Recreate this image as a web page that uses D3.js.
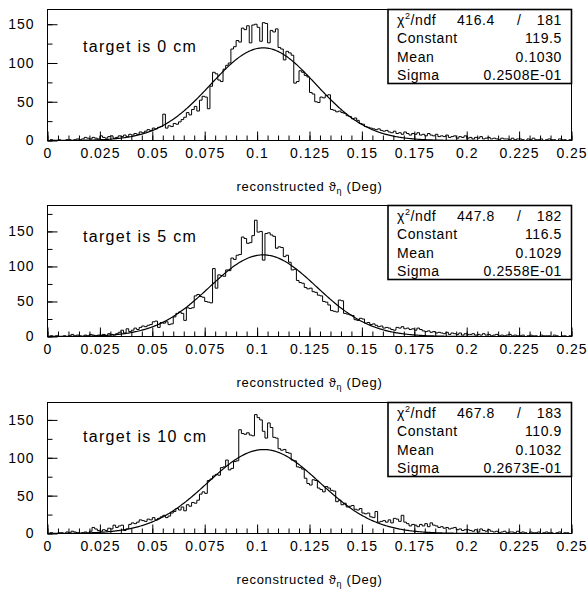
<!DOCTYPE html>
<html>
<head>
<meta charset="utf-8">
<script src="https://cdn.jsdelivr.net/npm/d3@7"></script>
<style>
  body { margin: 0; background: #fff; }
  text { font-family: "Liberation Sans", Arial, sans-serif; fill: #000; }
</style>
</head>
<body>
<div id="chart"></div>
<script>
// tick labels
var xTickLabels = ["0", "0.025", "0.05", "0.075", "0.1", "0.125", "0.15", "0.175", "0.2", "0.225", "0.25"]
var yTickLabels = ["0", "50", "100", "150"]

// panel titles and fit results
var targets = ["target is 0 cm", "target is 5 cm", "target is 10 cm"]
var chi2 = ["416.4", "447.8", "467.8"]
var ndf = ["181", "182", "183"]
var constants = ["119.5", "116.5", "110.9"]
var means = ["0.1030", "0.1029", "0.1032"]
var sigmas = ["0.2508E-01", "0.2558E-01", "0.2673E-01"]
var yMaxes = [169, 187, 173]

// histogram contents, 200 bins from 0 to 0.25 deg
var counts0 = [
  0,1,0,0,1,0,0,1,1,0, 1,2,1,2,4,3,2,4,3,2, 6,4,3,5,6,3,4,6,5,7, 5,8,7,9,8,11,10,12,14,13,
  16,15,17,18,34,16,19,18,22,21, 24,27,30,36,33,40,44,38,52,57, 56,41,70,88,86,78,76,92,97,100,
  118,121,129,127,145,143,148,126,149,150, 146,128,152,151,126,142,140,144,120,118,
  104,115,113,110,74,76,90,88,84,82, 62,60,50,49,56,55,58,59,40,39,
  37,38,36,35,32,31,28,29,26,22, 21,18,17,16,15,14,15,13,12,13, 11,10,12,9,10,8,11,9,7,9,
  8,10,7,8,6,9,7,6,8,5, 6,5,7,4,5,6,3,5,4,6, 3,4,2,4,3,5,2,3,4,2,
  3,2,1,3,2,2,1,3,1,2, 2,1,0,2,1,3,1,1,2,0, 1,2,1,1,0,2,1,1,0,1
]
var counts5 = [
  0,1,0,1,0,0,1,0,1,3, 1,2,1,0,2,1,3,2,1,2, 2,3,1,4,3,2,4,6,9,5, 11,7,9,12,10,13,15,14,16,17,
  21,22,13,20,19,21,17,18,28,33, 35,33,23,41,40,41,58,60,57,56, 50,49,48,97,69,88,87,86,95,94,
  112,110,116,117,142,140,133,134,144,166, 149,150,109,147,148,145,143,126,128,127,
  114,116,106,95,96,80,77,76,70,68, 69,64,63,59,58,50,49,45,37,36,
  35,52,51,33,32,31,30,24,23,26, 25,19,20,17,18,16,14,15,12,13, 12,10,9,13,12,14,11,12,10,11,
  9,12,10,8,7,8,6,7,5,6, 5,4,6,3,5,4,3,5,2,4, 3,3,4,2,3,2,4,2,3,1,
  2,3,1,2,1,2,3,1,2,1, 1,2,0,1,2,1,1,0,2,1, 1,1,0,2,1,0,1,1,0,1
]
var counts10 = [
  0,1,0,0,1,1,0,2,1,3, 2,1,0,1,2,0,3,8,6,4, 3,5,4,7,6,11,8,10,11,4, 6,12,14,13,15,18,17,16,19,18,
  21,18,20,22,24,21,23,27,29,33, 31,35,30,38,36,41,40,44,52,55, 53,70,72,76,78,77,87,88,97,84,
  86,95,96,137,132,131,133,130,129,157, 153,150,135,126,146,140,127,126,112,110,
  111,107,106,97,96,88,87,85,73,66, 64,71,70,60,58,55,62,60,57,56,
  42,44,38,40,35,36,37,32,31,33, 27,26,27,22,21,29,15,16,17,15, 18,14,20,19,16,24,15,13,10,12,
  11,9,12,10,13,9,14,11,10,8, 9,7,8,6,7,8,5,6,4,5, 5,4,3,5,2,6,4,3,5,3,
  2,3,1,2,3,1,2,2,1,3, 1,2,1,0,2,1,1,2,0,1, 2,1,1,0,1,2,0,1,1,0
]
var allCounts = [counts0, counts5, counts10]

var width = 588, height = 591
var left = 47.5, right = 571.5
var panelTops = [9.5, 205.5, 402.5]
var plotHeight = 131
var xMax = 0.25
var binWidth = xMax / 200

var svg = d3.select("#chart")
  .append("svg")
  .attr("width", width)
  .attr("height", height)

var xScale = d3.scaleLinear().domain([0, xMax]).range([left, right])

allCounts.forEach(function(counts, k) {
  var g = svg.append("g").attr("transform", "translate(0," + panelTops[k] + ")")
  var yScale = d3.scaleLinear().domain([0, yMaxes[k]]).range([plotHeight, 0])

  // minor x ticks
  g.append("g")
    .attr("transform", "translate(0," + plotHeight + ")")
    .call(d3.axisBottom(xScale).tickValues(d3.range(0, xMax + 1e-9, 0.005)).tickSize(-5).tickFormat(""))
  // major x ticks with labels
  g.append("g")
    .attr("class", "xmajor")
    .attr("transform", "translate(0," + plotHeight + ")")
    .call(d3.axisBottom(xScale).tickValues(xTickLabels.map(Number)).tickSize(-9).tickPadding(8)
      .tickFormat(function(d, i) { return xTickLabels[i] }))

  // y ticks
  g.append("g")
    .attr("transform", "translate(" + left + ",0)")
    .call(d3.axisLeft(yScale).tickValues(d3.range(0, yMaxes[k], 25)).tickSize(-5).tickFormat(""))
  g.append("g")
    .attr("class", "ymajor")
    .attr("transform", "translate(" + left + ",0)")
    .call(d3.axisLeft(yScale).tickValues(yTickLabels.map(Number)).tickSize(-10).tickPadding(13)
      .tickFormat(function(d, i) { return yTickLabels[i] }))

  g.selectAll(".domain").remove()
  g.selectAll(".tick line").attr("stroke", "#000")
  g.selectAll(".tick text")
    .style("font-family", "'Liberation Sans', Arial, sans-serif")
    .attr("font-size", 14)
    .attr("letter-spacing", 1)

  // frame
  g.append("rect")
    .attr("x", left).attr("y", 0)
    .attr("width", right - left).attr("height", plotHeight)
    .attr("fill", "none").attr("stroke", "#000").attr("stroke-width", 1)

  // histogram as steps
  var pts = [[0, 0]]
  counts.forEach(function(c, i) { pts.push([i * binWidth, c]) })
  pts.push([xMax, counts[counts.length - 1]])
  pts.push([xMax, 0])
  var step = d3.line()
    .x(function(d) { return xScale(d[0]) })
    .y(function(d) { return yScale(d[1]) })
    .curve(d3.curveStepAfter)
  g.append("path")
    .attr("d", step(pts))
    .attr("fill", "none").attr("stroke", "#000").attr("stroke-width", 1)

  // gaussian fit curve from the fit parameters
  var C = +constants[k], mu = +means[k], sg = +sigmas[k]
  var fitLine = d3.line()
    .x(function(d) { return xScale(d) })
    .y(function(d) { return yScale(C * Math.exp(-0.5 * Math.pow((d - mu) / sg, 2))) })
  g.append("path")
    .attr("d", fitLine(d3.range(0, xMax + 1e-9, xMax / 500)))
    .attr("fill", "none").attr("stroke", "#000").attr("stroke-width", 1.2)

  // label
  g.append("text")
    .attr("x", 83).attr("y", [42, 36, 39][k])
    .attr("font-size", 16).attr("letter-spacing", 1.3)
    .text(targets[k])

  // stats box
  var bx = 388, bw = right - bx, bh = 74
  g.append("rect")
    .attr("x", bx).attr("y", 0).attr("width", bw).attr("height", bh)
    .attr("fill", "#fff").attr("stroke", "#000").attr("stroke-width", 1.6)

  var rows = [
    ["", chi2[k]],
    ["Constant", constants[k]],
    ["Mean", means[k]],
    ["Sigma", sigmas[k]]
  ]
  rows.forEach(function(r, j) {
    var yb = 15 + j * 18.5
    if (j === 0) {
      var t = g.append("text").attr("x", 397).attr("y", yb).attr("font-size", 14).attr("letter-spacing", 0.6)
      t.append("tspan").text("χ")
      t.append("tspan").attr("font-size", 9).attr("dy", -6).text("2")
      t.append("tspan").attr("dy", 6).text("/ndf")
      g.append("text").attr("x", 495).attr("y", yb).attr("text-anchor", "end")
        .attr("font-size", 14).attr("letter-spacing", 0.6).text(r[1])
      g.append("text").attr("x", 519).attr("y", yb).attr("text-anchor", "middle")
        .attr("font-size", 14).text("/")
      g.append("text").attr("x", 562).attr("y", yb).attr("text-anchor", "end")
        .attr("font-size", 14).attr("letter-spacing", 0.6).text(ndf[k])
    } else {
      g.append("text").attr("x", 397).attr("y", yb)
        .attr("font-size", 14).attr("letter-spacing", 0.6).text(r[0])
      g.append("text").attr("x", 562).attr("y", yb).attr("text-anchor", "end")
        .attr("font-size", 14).attr("letter-spacing", 0.6).text(r[1])
    }
  })

  // axis title
  var title = g.append("text")
    .attr("x", (left + right) / 2).attr("y", plotHeight + 50)
    .attr("text-anchor", "middle")
    .attr("font-size", 13).attr("letter-spacing", 0.7)
  title.append("tspan").text("reconstructed ϑ")
  title.append("tspan").attr("font-size", 9).attr("dy", 3).text("η")
  title.append("tspan").attr("dy", -3).text(" (Deg)")
})
</script>
</body>
</html>
